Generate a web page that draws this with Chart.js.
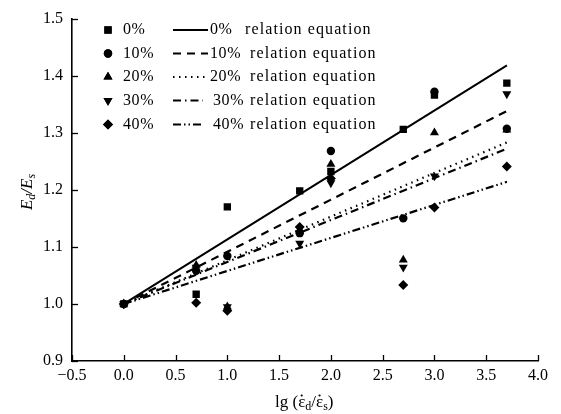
<!DOCTYPE html>
<html>
<head>
<meta charset="utf-8">
<script src="https://cdn.jsdelivr.net/npm/chart.js@4"></script>
<style>
  html, body { margin: 0; padding: 0; background: #fff; }
  #wrap { width: 561px; height: 414px; }
</style>
</head>
<body>
<div id="wrap"><canvas id="chart" width="561" height="414"></canvas></div>
<script>
// strain-rate (lg) positions of the tests
const xValues = [0, 0.699, 1, 1.699, 2, 2.699, 3, 3.699];

// measured Ed/Es for each content
const series0 = [1.0, 1.017, 1.170, 1.198, 1.232, 1.306, 1.366, 1.387];
const series10 = [1.0, 1.058, 1.084, 1.124, 1.268, 1.150, 1.372, 1.307];
const series20 = [1.0, 1.068, 0.995, 1.130, 1.245, 1.077, 1.300, 1.305];
const series30 = [1.0, 1.064, 0.995, 1.106, 1.212, 1.064, 1.224, 1.368];
const series40 = [1.0, 1.002, 0.988, 1.135, 1.220, 1.033, 1.169, 1.241];

// relation equation lines: start and end points
const fitX = [0, 3.7];
const fit0 = [1.0, 1.418];
const fit10 = [1.0, 1.338];
const fit20 = [1.0, 1.283];
const fit30 = [1.0, 1.272];
const fit40 = [1.0, 1.214];

const labels = ["0%", "10%", "20%", "30%", "40%"];
const xTicks = [-0.5, 0, 0.5, 1, 1.5, 2, 2.5, 3, 3.5, 4];
const yTicks = [0.9, 1.0, 1.1, 1.2, 1.3, 1.4, 1.5];

const FONT = "'Liberation Serif', 'DejaVu Serif', serif";

const markers = [
    { pointStyle: "rect", radius: 5.2, rotation: 0 },
    { pointStyle: "circle", radius: 4.2, rotation: 0 },
    { pointStyle: "triangle", radius: 5.2, rotation: 0 },
    { pointStyle: "triangle", radius: 5.2, rotation: 180 },
    { pointStyle: "rectRot", radius: 5, rotation: 0 }
];
const dashes = [[], [8, 6], [1.5, 4.5], [8, 4, 1.5, 4], [8, 3, 1.5, 3, 1.5, 3]];

function toPoints(xs, ys) {
    return xs.map((x, i) => ({ x: x, y: ys[i] }));
}

const scatterSets = [series0, series10, series20, series30, series40].map((s, i) => ({
    type: "scatter",
    label: labels[i],
    data: toPoints(xValues, s),
    pointStyle: markers[i].pointStyle,
    pointRadius: markers[i].radius,
    pointRotation: markers[i].rotation,
    pointBackgroundColor: "#000",
    pointBorderColor: "#000",
    pointBorderWidth: 0,
    showLine: false
}));

const lineSets = [fit0, fit10, fit20, fit30, fit40].map((f, i) => ({
    type: "line",
    label: labels[i] + "  relation equation",
    data: toPoints(fitX, f),
    borderColor: "#000",
    borderWidth: i === 0 ? 2 : 2.2,
    borderDash: dashes[i],
    pointRadius: 0,
    fill: false
}));

function fmt(v) {
    return v.toFixed(1).replace("-", "\u2212");
}

// inward tick marks, legend and axis titles
const decor = {
    id: "decor",
    afterDraw(chart) {
        const ctx = chart.ctx;
        const xs = chart.scales.x, ys = chart.scales.y;
        const area = chart.chartArea;
        ctx.save();
        ctx.strokeStyle = "#000";
        ctx.lineWidth = 1.3;
        xTicks.forEach(v => {
            const px = Math.round(xs.getPixelForValue(v)) + 0.5;
            ctx.beginPath();
            ctx.moveTo(px, area.bottom);
            ctx.lineTo(px, area.bottom - 6);
            ctx.stroke();
        });
        yTicks.forEach(v => {
            const py = Math.round(ys.getPixelForValue(v)) + 0.5;
            ctx.beginPath();
            ctx.moveTo(area.left, py);
            ctx.lineTo(area.left + 6, py);
            ctx.stroke();
        });

        // legend
        ctx.fillStyle = "#000";
        ctx.font = "16px " + FONT;
        ctx.textBaseline = "middle";
        const rowY = [30, 53.5, 77, 100.5, 124.5];
        for (let i = 0; i < 5; i++) {
            const y = rowY[i];
            Chart.helpers.drawPoint(ctx, {
                pointStyle: markers[i].pointStyle,
                radius: markers[i].radius,
                rotation: markers[i].rotation,
                borderWidth: 0
            }, 108, y);
            ctx.fill();
            ctx.letterSpacing = "0.6px";
            ctx.fillText(labels[i], 123, y);
            ctx.save();
            ctx.lineWidth = 2.2;
            ctx.setLineDash(dashes[i]);
            ctx.beginPath();
            ctx.moveTo(173, y);
            ctx.lineTo(i >= 3 ? 203 : 208, y);
            ctx.stroke();
            ctx.restore();
            const tx = i >= 3 ? 213 : 210;
            ctx.fillText(labels[i], tx, y);
            ctx.letterSpacing = "1.1px";
            ctx.fillText("relation equation", i === 0 ? 245 : 250, y);
            ctx.letterSpacing = "0px";
        }

        // x title: lg (ε̇d/ε̇s), dot drawn over each epsilon
        ctx.textBaseline = "alphabetic";
        let x = 275, yb = 407;
        const parts = [
            ["lg (", 17, 0], ["\u03B5", 17, 0], ["d", 12, 3], ["/", 17, 0],
            ["\u03B5", 17, 0], ["s", 12, 3], [")", 17, 0]
        ];
        parts.forEach(p => {
            ctx.font = p[1] + "px " + FONT;
            ctx.fillText(p[0], x, yb + p[2]);
            const w = ctx.measureText(p[0]).width;
            if (p[0] === "\u03B5") {
                ctx.beginPath();
                ctx.arc(x + w / 2, yb - 11.5, 1.1, 0, Math.PI * 2);
                ctx.fill();
            }
            x += w;
        });

        // y title: Ed/Es rotated
        ctx.translate(27, 192);
        ctx.rotate(-Math.PI / 2);
        const yparts = [["E", 17, 0], ["d", 12, 3], ["/", 17, 0], ["E", 17, 0], ["s", 12, 3]];
        let tw = 0;
        yparts.forEach(p => { ctx.font = "italic " + p[1] + "px " + FONT; tw += ctx.measureText(p[0]).width; });
        let yx = -tw / 2;
        yparts.forEach(p => {
            ctx.font = "italic " + p[1] + "px " + FONT;
            ctx.fillText(p[0], yx, 5 + p[2]);
            yx += ctx.measureText(p[0]).width;
        });
        ctx.restore();
    }
};

new Chart(document.getElementById("chart"), {
    data: { datasets: [...lineSets, ...scatterSets] },
    options: {
        responsive: false,
        animation: false,
        layout: { padding: { top: 18, right: 23, left: 0, bottom: 0 } },
        plugins: {
            legend: { display: false },
            tooltip: { enabled: false }
        },
        scales: {
            x: {
                type: "linear",
                min: -0.5,
                max: 4.0,
                afterFit: s => { s.height = 53; },
                afterBuildTicks: s => { s.ticks = xTicks.map(v => ({ value: v })); },
                grid: { display: false, drawTicks: false },
                border: { color: "#000", width: 1.6 },
                ticks: {
                    color: "#000",
                    font: { family: FONT, size: 16 },
                    padding: 5,
                    maxRotation: 0,
                    callback: v => fmt(v)
                }
            },
            y: {
                type: "linear",
                min: 0.9,
                max: 1.5,
                afterFit: s => { s.width = 72; },
                afterBuildTicks: s => { s.ticks = yTicks.map(v => ({ value: v })); },
                grid: { display: false, drawTicks: false },
                border: { color: "#000", width: 1.6 },
                ticks: {
                    color: "#000",
                    font: { family: FONT, size: 16 },
                    padding: 9,
                    callback: v => fmt(v)
                }
            }
        }
    },
    plugins: [decor]
});
</script>
</body>
</html>
